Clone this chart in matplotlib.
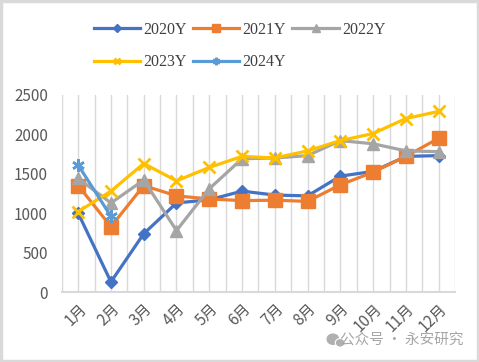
import matplotlib.pyplot as plt
from matplotlib.patches import Rectangle, Ellipse

plt.rcParams['font.family'] = ['Noto Sans CJK SC', 'DejaVu Sans']

months = ['1月', '2月', '3月', '4月', '5月', '6月', '7月', '8月', '9月', '10月', '11月', '12月']
y2020 = [1000, 130, 740, 1130, 1170, 1280, 1230, 1220, 1470, 1530, 1720, 1730]
y2021 = [1350, 830, 1350, 1220, 1180, 1160, 1165, 1150, 1360, 1520, 1720, 1950]
y2022 = [1440, 1130, 1420, 780, 1310, 1690, 1700, 1730, 1920, 1880, 1790, 1780]
y2023 = [1020, 1280, 1630, 1410, 1580, 1720, 1700, 1790, 1920, 2010, 2200, 2290]
y2024 = [1610, 960]

fig = plt.figure(figsize=(4.79, 3.62), dpi=100)
ax = fig.add_axes([0.129, 0.193, 0.821, 0.545])

x = list(range(len(months)))
l20, = ax.plot(x, y2020, color='#4472C4', lw=2.3, marker='D', ms=6.5, label='2020Y')
l21, = ax.plot(x, y2021, color='#ED7D31', lw=2.3, marker='s', ms=9.5, label='2021Y')
l22, = ax.plot(x, y2022, color='#A5A5A5', lw=2.3, marker='^', ms=9, label='2022Y')
l23, = ax.plot(x, y2023, color='#FFC000', lw=2.3, marker='x', ms=8, mew=2, label='2023Y')
l24, = ax.plot(x[:len(y2024)], y2024, color='#5B9BD5', lw=2.3, marker=(6, 2, 0), ms=9, mew=1.8, label='2024Y')

ax.set_xlim(-0.5, 11.5)
ax.set_ylim(0, 2500)
ax.set_yticks([0, 500, 1000, 1500, 2000, 2500])
for v in [i * 0.5 - 0.5 for i in range(25)]:
    ax.axvline(v, color='#D9D9D9', lw=1, zorder=0)
ax.set_xticks(x)
ax.set_xticklabels(months, rotation=45, ha='right', va='top', rotation_mode='anchor')
ax.tick_params(axis='both', length=0, colors='#595959', labelsize=11)
ax.tick_params(axis='y', pad=10)
ax.tick_params(axis='x', pad=6)
for s in ['top', 'left', 'right']:
    ax.spines[s].set_visible(False)
ax.spines['bottom'].set_color('#D9D9D9')
ax.spines['bottom'].set_linewidth(1.5)

handles = [l20, l23, l21, l24, l22]
fig.legend(handles=handles, labels=[h.get_label() for h in handles], ncol=3,
           loc='upper center', bbox_to_anchor=(0.5, 0.98), frameon=False,
           prop={'family': 'Liberation Serif', 'size': 11.5}, handlelength=2.9,
           columnspacing=0.4, handletextpad=0.2, labelspacing=1.05, labelcolor='#404040',
           markerscale=0.6)

# watermark
fig.text(0.967, 0.04, '公众号 · 永安研究', ha='right', va='bottom', fontsize=10.5, color='#A6A6A6')
fig.patches.append(Ellipse((0.695, 0.063), 0.024, 0.028, transform=fig.transFigure, color='#B0B0B0'))
fig.patches.append(Ellipse((0.710, 0.053), 0.02, 0.024, transform=fig.transFigure, color='#B0B0B0', ec='white', lw=0.8))

fig.patches.append(Rectangle((0.002, 0.003), 0.996, 0.994, transform=fig.transFigure,
                             fill=False, edgecolor='#D9D9D9', lw=2.5))

fig.savefig('out.png', dpi=100)
